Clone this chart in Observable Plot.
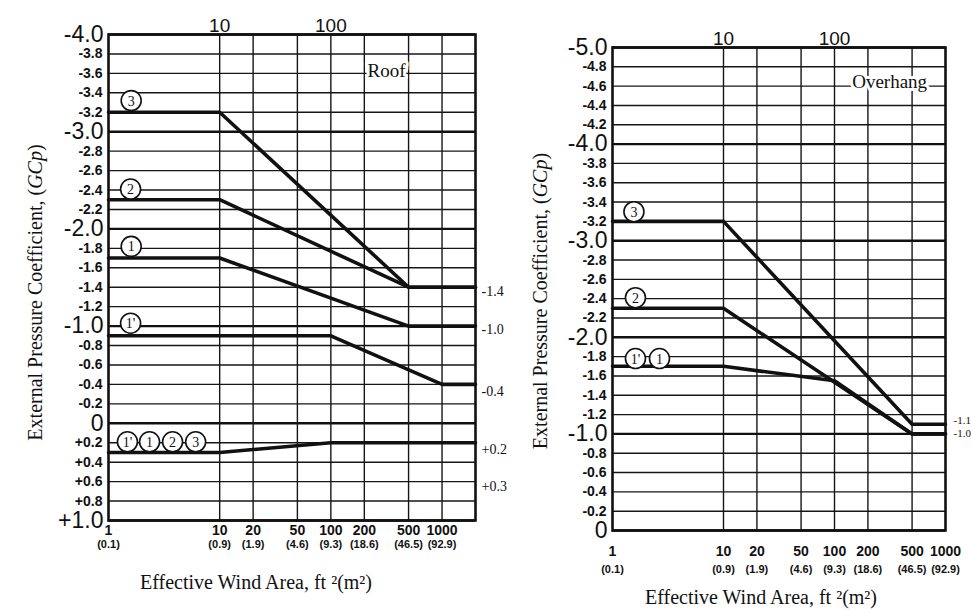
<!DOCTYPE html>
<html><head><meta charset="utf-8">
<script src="https://cdn.jsdelivr.net/npm/d3@7"></script>
<script src="https://cdn.jsdelivr.net/npm/@observablehq/plot@0.6"></script>
<style>
body{margin:0;background:#fff;}
#wrap{display:flex;width:971px;height:612px;overflow:hidden;background:#fff;}
#wrap svg{flex:none;}
#wrap g[aria-label="area ticks"] text, #wrap g[aria-label="area ticks m2"] text{letter-spacing:-0.6px;}
#wrap g[aria-label="minor gcp ticks"] text{letter-spacing:-0.4px;}
#wrap g[aria-label="major gcp ticks"] text{letter-spacing:-0.8px;}
</style></head><body><div id="wrap"></div>
<script>
// ---------- data ----------
// [effective wind area ft², GCp]
const roofZone3    = [[1, -3.2], [10, -3.2], [500, -1.4], [2000, -1.4]];
const roofZone2    = [[1, -2.3], [10, -2.3], [500, -1.4], [2000, -1.4]];
const roofZone1    = [[1, -1.7], [10, -1.7], [500, -1.0], [2000, -1.0]];
const roofZone1p   = [[1, -0.9], [100, -0.9], [1000, -0.4], [2000, -0.4]];
const roofPositive = [[1, 0.3], [10, 0.3], [100, 0.2], [2000, 0.2]];

const overhangZone3 = [[1, -3.2], [10, -3.2], [500, -1.1], [1000, -1.1]];
const overhangZone2 = [[1, -2.3], [10, -2.3], [500, -1.0], [1000, -1.0]];
const overhangZone1 = [[1, -1.7], [10, -1.7], [100, -1.55], [500, -1.0], [1000, -1.0]];

// axis ticks
const areaTicks   = [1, 10, 20, 50, 100, 200, 500, 1000];
const areaTicksM2 = ["(0.1)", "(0.9)", "(1.9)", "(4.6)", "(9.3)", "(18.6)", "(46.5)", "(92.9)"];
const areaGrid    = [10, 20, 50, 100, 200, 500, 1000];
const topTicks    = [10, 100];

const roofMajorTicks = [-4, -3, -2, -1, 0, 1];
const roofMinorTicks = [-3.8, -3.6, -3.4, -3.2, -2.8, -2.6, -2.4, -2.2, -1.8, -1.6, -1.4, -1.2,
                        -0.8, -0.6, -0.4, -0.2, 0.2, 0.4, 0.6, 0.8];
const overhangMajorTicks = [-5, -4, -3, -2, -1, 0];
const overhangMinorTicks = [-4.8, -4.6, -4.4, -4.2, -3.8, -3.6, -3.4, -3.2, -2.8, -2.6, -2.4, -2.2,
                            -1.8, -1.6, -1.4, -1.2, -0.8, -0.6, -0.4, -0.2];

// zone markers (circled labels)
const roofMarkerText = ["3", "2", "1", "1'", "1'", "1", "2", "3"];
const roofMarkerArea = [1.6, 1.58, 1.6, 1.58, 1.48, 2.34, 3.77, 6.08];
const roofMarkerGcp  = [-3.32, -2.41, -1.82, -1.03, 0.19, 0.19, 0.19, 0.19];
const overhangMarkerText = ["3", "2", "1'", "1"];
const overhangMarkerArea = [1.56, 1.61, 1.61, 2.65];
const overhangMarkerGcp  = [-3.3, -2.41, -1.78, -1.78];

// end-value notes on the right
const roofNoteText = ["-1.4", "-1.0", "-0.4", "+0.2", "+0.3"];
const roofNoteGcp  = [-1.36, -0.96, -0.33, 0.27, 0.65];
const overhangNoteText = ["-1.1", "-1.0"];
const overhangNoteGcp  = [-1.14, -1.0];

const yLabel = "External Pressure Coefficient, (GCp)";
const xLabel = "Effective Wind Area, ft \u00B2(m\u00B2)";

// ---------- drawing ----------
const SANS = "'Liberation Sans Narrow', 'Liberation Sans', Arial, sans-serif";
const SERIF = "'Liberation Serif', 'Times New Roman', serif";
const fmt = v => v === 0 ? "0" : (v > 0 ? "+" : "-") + Math.abs(v).toFixed(1);
const toRows = (pts, zone) => pts.map(([a, g]) => ({area: a, gcp: g, zone}));

function panel(o) {
  const lines = o.series.flatMap(([z, pts]) => toRows(pts, z));
  const markers = o.markerText.map((t, i) => ({t, a: o.markerArea[i], g: o.markerGcp[i]}));
  const notes = o.noteText.map((t, i) => ({t, g: o.noteGcp[i]}));
  const svg = Plot.plot({
    width: o.width, height: 612,
    marginLeft: o.ml, marginRight: o.mr, marginTop: o.mt, marginBottom: o.mb,
    style: {background: "white", fontFamily: SANS, color: "#111", overflow: "visible"},
    x: {type: "log", domain: o.xDomain, axis: null},
    y: {domain: o.yDomain, axis: null},
    marks: [
      Plot.ruleY(o.minor, {stroke: "#161616", strokeWidth: 1.4}),
      Plot.ruleY(o.major, {stroke: "#111", strokeWidth: 2.4}),
      Plot.ruleX(areaGrid.filter(d => d < o.xDomain[1]), {stroke: "#161616", strokeWidth: 1.4}),
      Plot.frame({stroke: "#111", strokeWidth: 2.6}),
      Plot.text([o.title], {x: o.titleArea, y: o.titleGcp, text: d => d, fontFamily: SERIF,
        fontSize: 19, fill: "#111", stroke: "white", strokeWidth: 6}),
      Plot.line(lines, {x: "area", y: "gcp", z: "zone", stroke: "#111", strokeWidth: 3.6}),
      Plot.dot(markers, {x: "a", y: "g", r: 10, fill: "white", stroke: "#111", strokeWidth: 1.6}),
      Plot.text(markers, {x: "a", y: "g", text: "t", fontFamily: SERIF, fontSize: 14, fill: "#111", dy: 0.5}),
      // y tick labels
      Plot.text(o.minor, {y: d => d, text: fmt, frameAnchor: "left", textAnchor: "end", lineAnchor: "middle", dx: -6,
        fontSize: 14, fontWeight: "bold", fill: "#111", ariaLabel: "minor gcp ticks"}),
      Plot.text(o.major, {y: d => d, text: fmt, frameAnchor: "left", textAnchor: "end", lineAnchor: "middle", dx: -5,
        fontSize: 23, fill: "#111", ariaLabel: "major gcp ticks"}),
      // bottom tick labels
      Plot.text(areaTicks, {x: d => d, text: d => String(d), frameAnchor: "bottom", lineAnchor: "middle", textAnchor: "middle",
        dy: o.tickDy, fontSize: 14, fontWeight: "bold", fill: "#111", ariaLabel: "area ticks"}),
      Plot.text(areaTicks, {x: d => d, text: (d, i) => areaTicksM2[i], frameAnchor: "bottom", lineAnchor: "middle", textAnchor: "middle",
        dy: o.tickDy2, fontSize: 11, fontWeight: "bold", fill: "#111", ariaLabel: "area ticks m2"}),
      // top tick labels
      Plot.text(topTicks, {x: d => d, text: d => String(d), frameAnchor: "top", lineAnchor: "bottom", textAnchor: "middle",
        dy: o.topDy, fontSize: 19, fill: "#111"}),
      // right-hand notes
      Plot.text(notes, {y: "g", text: "t", frameAnchor: "right", textAnchor: "start", lineAnchor: "middle", dx: o.noteDx,
        fontFamily: SERIF, fontSize: o.noteSize, fill: "#111"}),
      // axis titles
      Plot.text([yLabel], {text: d => d, frameAnchor: "left", textAnchor: "middle", lineAnchor: "middle", rotate: -90,
        dx: o.ylDx, dy: o.ylDy, fontFamily: SERIF, fontSize: 20, fill: "#111"}),
      Plot.text([xLabel], {text: d => d, frameAnchor: "bottom", textAnchor: "middle", lineAnchor: "middle",
        dx: o.xlDx, dy: o.xlDy, fontFamily: SERIF, fontSize: 20, fill: "#111"})
    ]
  });
  d3.select(svg).selectAll("text").each(function () {
    if (this.textContent === yLabel) {
      const t = d3.select(this);
      t.text(null);
      t.append("tspan").text("External Pressure Coefficient, (");
      t.append("tspan").attr("font-style", "italic").text("GCp");
      t.append("tspan").text(")");
    }
  });
  return svg;
}

const wrap = document.getElementById("wrap");
wrap.append(panel({
  width: 520, ml: 108, mr: 45, mt: 34, mb: 92,
  xDomain: [1, 2000], yDomain: [1, -4],
  series: [["3", roofZone3], ["2", roofZone2], ["1", roofZone1], ["1p", roofZone1p], ["pos", roofPositive]],
  major: roofMajorTicks, minor: roofMinorTicks,
  markerText: roofMarkerText, markerArea: roofMarkerArea, markerGcp: roofMarkerGcp,
  noteText: roofNoteText, noteGcp: roofNoteGcp, noteDx: 6, noteSize: 14,
  title: "Roof", titleArea: 317, titleGcp: -3.63,
  tickDy: 10, tickDy2: 24, topDy: -3,
  ylDx: -73, ylDy: 15, xlDx: -36, xlDy: 62
}));
wrap.append(panel({
  width: 451, ml: 92, mr: 26, mt: 47, mb: 82,
  xDomain: [1, 1000], yDomain: [0, -5],
  series: [["3", overhangZone3], ["2", overhangZone2], ["1", overhangZone1]],
  major: overhangMajorTicks, minor: overhangMinorTicks,
  markerText: overhangMarkerText, markerArea: overhangMarkerArea, markerGcp: overhangMarkerGcp,
  noteText: overhangNoteText, noteGcp: overhangNoteGcp, noteDx: 8, noteSize: 11,
  title: "Overhang", titleArea: 314, titleGcp: -4.64,
  tickDy: 21, tickDy2: 39, topDy: -3,
  ylDx: -72, ylDy: 12, xlDx: -18, xlDy: 67
}));
</script></body></html>
